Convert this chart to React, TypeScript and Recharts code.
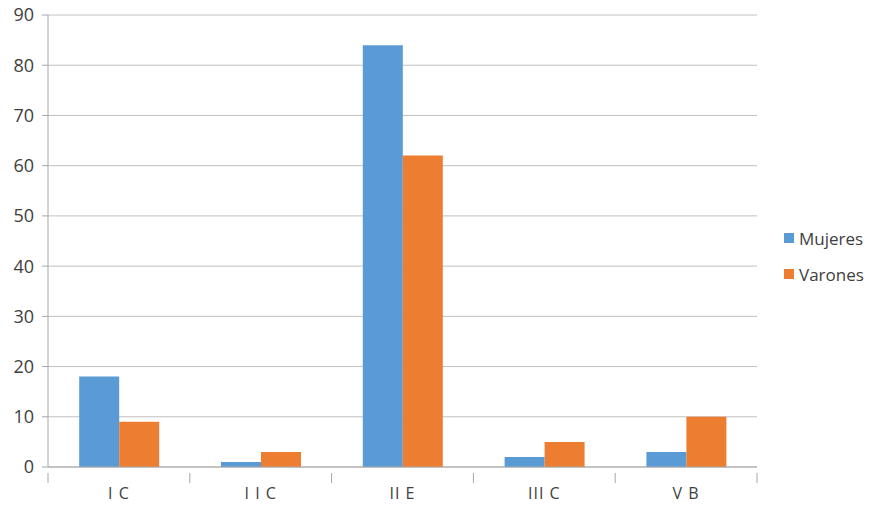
import React from 'react';
import {
  BarChart,
  Bar,
  CartesianGrid,
  XAxis,
  YAxis,
  Legend,
} from 'recharts';

const categories = ['I C', 'I I C', 'II E', 'III C', 'V B'];
const mujeres = [18, 1, 84, 2, 3];
const varones = [9, 3, 62, 5, 10];
const yTicks = [0, 10, 20, 30, 40, 50, 60, 70, 80, 90];

const data = categories.map((name, i) => ({
  name,
  mujeres: mujeres[i],
  varones: varones[i],
}));

const FONT = '"Open Sans", Lato, sans-serif';
const BAND = (757 - 48) / categories.length;

function CategoryTick(props: any) {
  const { x, y, payload, index } = props;
  const last = index === categories.length - 1;
  return (
    <g>
      <line x1={x - BAND / 2} x2={x - BAND / 2} y1={y - 2} y2={y + 8} stroke="#a6a6a6" />
      {last && (
        <line x1={x + BAND / 2} x2={x + BAND / 2} y1={y - 2} y2={y + 8} stroke="#a6a6a6" />
      )}
      <text
        x={x}
        y={y + 24}
        textAnchor="middle"
        fill="#404040"
        fontSize={16}
        fontFamily={FONT}
        style={{ letterSpacing: 1 }}
      >
        {payload.value}
      </text>
    </g>
  );
}

function LegendContent() {
  const items = [
    { label: 'Mujeres', color: '#5b9bd5' },
    { label: 'Varones', color: '#ed7d31' },
  ];
  return (
    <div style={{ fontFamily: FONT, fontSize: 17, color: '#404040' }}>
      {items.map((it) => (
        <div key={it.label} style={{ display: 'flex', alignItems: 'center', height: 36 }}>
          <span style={{ width: 10, height: 10, background: it.color, marginRight: 5 }} />
          {it.label}
        </div>
      ))}
    </div>
  );
}

export default function App() {
  return (
    <div style={{ position: 'absolute', left: 0, top: 0, background: '#fff' }}>
      <BarChart
        width={881}
        height={507}
        data={data}
        margin={{ top: 15, right: 24, bottom: 0, left: 0 }}
        barCategoryGap="22%"
        barGap={0}
      >
        <CartesianGrid vertical={false} stroke="#c0c0c0" />
        <XAxis
          dataKey="name"
          height={40}
          stroke="#a6a6a6"
          tickLine={false}
          tick={<CategoryTick />}
          interval={0}
        />
        <YAxis
          width={48}
          domain={[0, 90]}
          ticks={yTicks}
          interval={0}
          stroke="#a6a6a6"
          tickSize={6}
          tickMargin={8}
          tick={{ fill: '#404040', fontSize: 18, fontFamily: FONT }}
        />
        <Legend
          layout="vertical"
          align="right"
          verticalAlign="middle"
          content={<LegendContent />}
          wrapperStyle={{ left: 784, top: 220, width: 100 }}
        />
        <Bar dataKey="mujeres" name="Mujeres" fill="#5b9bd5" isAnimationActive={false} />
        <Bar dataKey="varones" name="Varones" fill="#ed7d31" isAnimationActive={false} />
      </BarChart>
    </div>
  );
}
